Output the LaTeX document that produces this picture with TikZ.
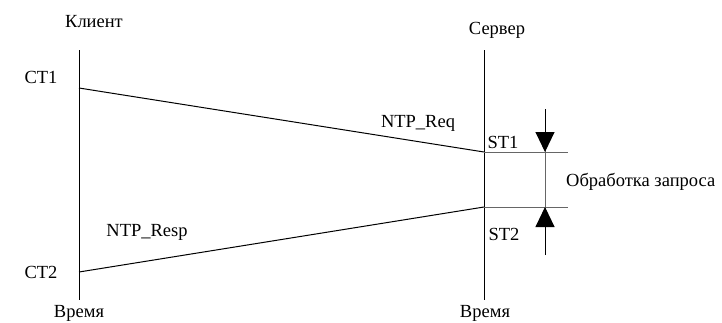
\documentclass[tikz,border=0pt]{standalone}
\usepackage{fontspec}
\setmainfont{Liberation Serif}
\usetikzlibrary{arrows.meta}
\begin{document}
\begin{tikzpicture}[x=1pt,y=-1pt,
  lbl/.style={font=\fontsize{18.5}{21}\selectfont, inner sep=0pt},
  timeline/.style={line width=1pt, black},
  msg/.style={line width=1pt, black},
  tick/.style={line width=1pt, black!60},
  marker/.style={-{Triangle[length=20pt,width=19pt]}, line width=1pt, black!60}]
\useasboundingbox (0,0) rectangle (722,322);

% time axes
\coordinate (c0) at (79,50);  \coordinate (c1) at (79,300);
\coordinate (s0) at (484,50); \coordinate (s1) at (484,300);
\draw[timeline] (c0) -- (c1);
\draw[timeline] (s0) -- (s1);

% message events
\coordinate (ct1) at (79,88);   \coordinate (st1) at (484,152);
\coordinate (st2) at (484,207); \coordinate (ct2) at (79,272);
\draw[msg] (ct1) -- (st1);
\draw[msg] (st2) -- (ct2);

% processing interval on the server
\coordinate (t1) at (568,152); \coordinate (t2) at (568,207);
\coordinate (m0) at (545,109); \coordinate (m1) at (545,255);
\coordinate (a1) at (545,152); \coordinate (a2) at (545,207);
\draw[tick] (st1) -- (t1);
\draw[tick] (st2) -- (t2);
\draw[tick] (m0) -- (m1);
\draw[marker, black] (m0) -- (a1);
\draw[marker, black] (m1) -- (a2);

% labels
\node[lbl] (client) at (94,22) {Клиент};
\node[lbl] (server) at (497,30) {Сервер};
\node[lbl] (ct1l) at (41,77) {CT1};
\node[lbl] (ct2l) at (41,272) {CT2};
\node[lbl] (req) at (418,123) {NTP\_Req};
\node[lbl] (resp) at (147,232) {NTP\_Resp};
\node[lbl] (st1l) at (503,142) {ST1};
\node[lbl] (st2l) at (504,234) {ST2};
\node[lbl, anchor=west] (proc) at (566,182) {Обработка запроса};
\node[lbl] (timec) at (79,313) {Время};
\node[lbl] (times) at (485,313) {Время};
\end{tikzpicture}
\end{document}
